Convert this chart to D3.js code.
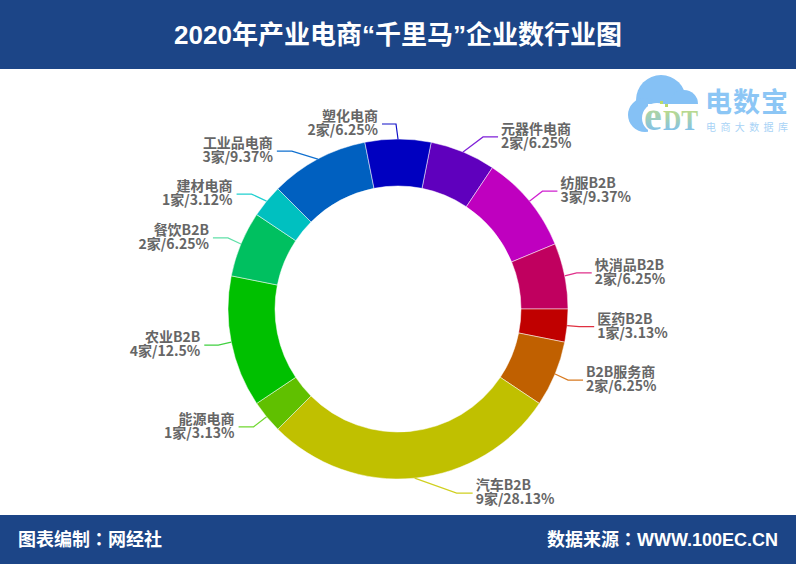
<!DOCTYPE html>
<html>
<head>
<meta charset="utf-8">
<script src="https://cdn.jsdelivr.net/npm/d3@7"></script>
<style>
  html, body { margin: 0; padding: 0; background: #fff; }
  svg { display: block; }
  .title, .foot { font-family: "Liberation Sans", "Noto Sans CJK SC", sans-serif; font-weight: 700; fill: #fff; }
  .colon { font-family: "Noto Sans CJK TC", sans-serif; }
  .lab { font-family: "Noto Sans CJK SC", sans-serif; font-weight: 700; font-size: 14px; fill: #666; }
</style>
</head>
<body>
<svg id="chart" width="796" height="564"></svg>
<script>
// data, clockwise from the 元器件电商 slice
const categories = ['元器件电商', '纺服B2B', '快消品B2B', '医药B2B', 'B2B服务商', '汽车B2B', '能源电商', '农业B2B', '餐饮B2B', '建材电商', '工业品电商', '塑化电商'];
const counts = [2, 3, 2, 1, 2, 9, 1, 4, 2, 1, 3, 2];
const shares = ['6.25%', '9.37%', '6.25%', '3.13%', '6.25%', '28.13%', '3.13%', '12.5%', '6.25%', '3.12%', '9.37%', '6.25%'];

const colors = ['#5f00bd', '#bf00bf', '#c0005f', '#c00000', '#c06000', '#c0c000', '#60c000', '#00c000', '#00c060', '#00c0c0', '#0060c0', '#0000c0'];
const lineColors = ['#7f20d8', '#d020d0', '#e0308a', '#e03040', '#d87a20', '#d0d020', '#70d830', '#40d040', '#60e0a8', '#20d0d0', '#1070d0', '#1010c8'];
// leader line bends, relative to where the line leaves the ring: [elbow dx, elbow dy, run]
const leaders = [[20, -15, 15], [13, -10, 15], [12, -3, 15], [12, 1, 15], [13, 6, 15], [42, 15, 16], [-13, 10, 15], [-13, 3, 14], [-13, -6, 15], [-15, -7, 15], [-26, -8, 15], [-2, -15, 14]];

const cx = 398, cy = 309, outerR = 170, innerR = 123;
const startAngle = 11.25 * Math.PI / 180;

const svg = d3.select('#chart');

// header + footer bands
svg.append('rect').attr('width', 796).attr('height', 69).attr('fill', '#1c4587');
svg.append('rect').attr('y', 515).attr('width', 796).attr('height', 49).attr('fill', '#1c4587');
svg.append('text').attr('class', 'title').attr('x', 398).attr('y', 44).attr('text-anchor', 'middle')
  .attr('font-size', 26).text('2020年产业电商“千里马”企业数行业图');

const footLeft = svg.append('text').attr('class', 'foot').attr('x', 18).attr('y', 546).attr('font-size', 18);
footLeft.append('tspan').text('图表编制');
footLeft.append('tspan').attr('class', 'colon').text('：');
footLeft.append('tspan').text('网经社');
const footRight = svg.append('text').attr('class', 'foot').attr('x', 778).attr('y', 546).attr('text-anchor', 'end').attr('font-size', 18);
footRight.append('tspan').text('数据来源');
footRight.append('tspan').attr('class', 'colon').text('：');
footRight.append('tspan').text('WWW.100EC.CN');

// logo
const logo = svg.append('g');
const defs = svg.append('defs');
const grad = defs.append('linearGradient').attr('id', 'edt').attr('x1', 0).attr('y1', 0).attr('x2', 0).attr('y2', 1);
grad.append('stop').attr('offset', '15%').attr('stop-color', '#c4de7c');
grad.append('stop').attr('offset', '85%').attr('stop-color', '#7fc0ee');
[[661, 100, 25], [645, 115, 17], [684, 104, 14]].forEach(c => {
  logo.append('circle').attr('cx', c[0]).attr('cy', c[1]).attr('r', c[2]).attr('fill', '#85c1f5');
});
logo.append('rect').attr('x', 648).attr('y', 104).attr('width', 51).attr('height', 30).attr('fill', '#fff');
logo.append('circle').attr('cx', 657).attr('cy', 118).attr('r', 15).attr('fill', '#fff');
[[660, 101], [665, 104]].forEach(p => {
  logo.append('rect').attr('x', p[0]).attr('y', p[1]).attr('width', 3).attr('height', 3).attr('fill', '#b9d96a');
});
logo.append('text').attr('x', 644).attr('y', 130).attr('font-family', 'Liberation Serif').attr('font-weight', 700)
  .attr('font-size', 40).attr('fill', 'url(#edt)').text('e');
logo.append('text').attr('x', 663).attr('y', 130).attr('font-family', 'Liberation Serif').attr('font-weight', 700)
  .attr('font-size', 30).attr('textLength', 35).attr('lengthAdjust', 'spacingAndGlyphs').attr('fill', 'url(#edt)').text('DT');
logo.append('text').attr('x', 705).attr('y', 112).attr('font-family', 'Noto Sans CJK SC').attr('font-weight', 700)
  .attr('font-size', 27).attr('letter-spacing', 1).attr('fill', '#8cc6f5').text('电数宝');
logo.append('text').attr('x', 706).attr('y', 131).attr('font-family', 'Noto Sans CJK SC')
  .attr('font-size', 10).attr('letter-spacing', 4.4).attr('fill', '#a8d3f6').text('电商大数据库');

// ring
const pie = d3.pie().sort(null).startAngle(startAngle).endAngle(startAngle + 2 * Math.PI)(counts);
const arc = d3.arc().innerRadius(innerR).outerRadius(outerR);
const ring = svg.append('g').attr('transform', `translate(${cx},${cy})`);

ring.selectAll('path.slice').data(pie).join('path')
  .attr('class', 'slice')
  .attr('d', arc)
  .attr('fill', (d, i) => colors[i])
  .attr('stroke', '#fff')
  .attr('stroke-width', 0.5);

// leaders + labels
const line = d3.line();
pie.forEach((d, i) => {
  const mid = (d.startAngle + d.endAngle) / 2;
  const x0 = Math.sin(mid) * outerR, y0 = -Math.cos(mid) * outerR;
  const [dx, dy, run] = leaders[i];
  const side = i < 6 ? 1 : -1;
  const ex = x0 + dx, ey = y0 + dy, tx = ex + side * run;
  const lx = tx + (side > 0 ? 3 : -4);

  ring.append('path')
    .attr('d', line([[x0, y0], [ex, ey], [tx, ey]]))
    .attr('fill', 'none')
    .attr('stroke', lineColors[i])
    .attr('stroke-width', 1.2);

  const t = ring.append('text').attr('class', 'lab')
    .attr('text-anchor', side > 0 ? 'start' : 'end')
    .attr('x', lx);
  t.append('tspan').attr('x', lx).attr('y', ey - 3).text(categories[i]);
  t.append('tspan').attr('x', lx).attr('y', ey + 11).text(`${counts[i]}家/${shares[i]}`);
});
</script>
</body>
</html>
